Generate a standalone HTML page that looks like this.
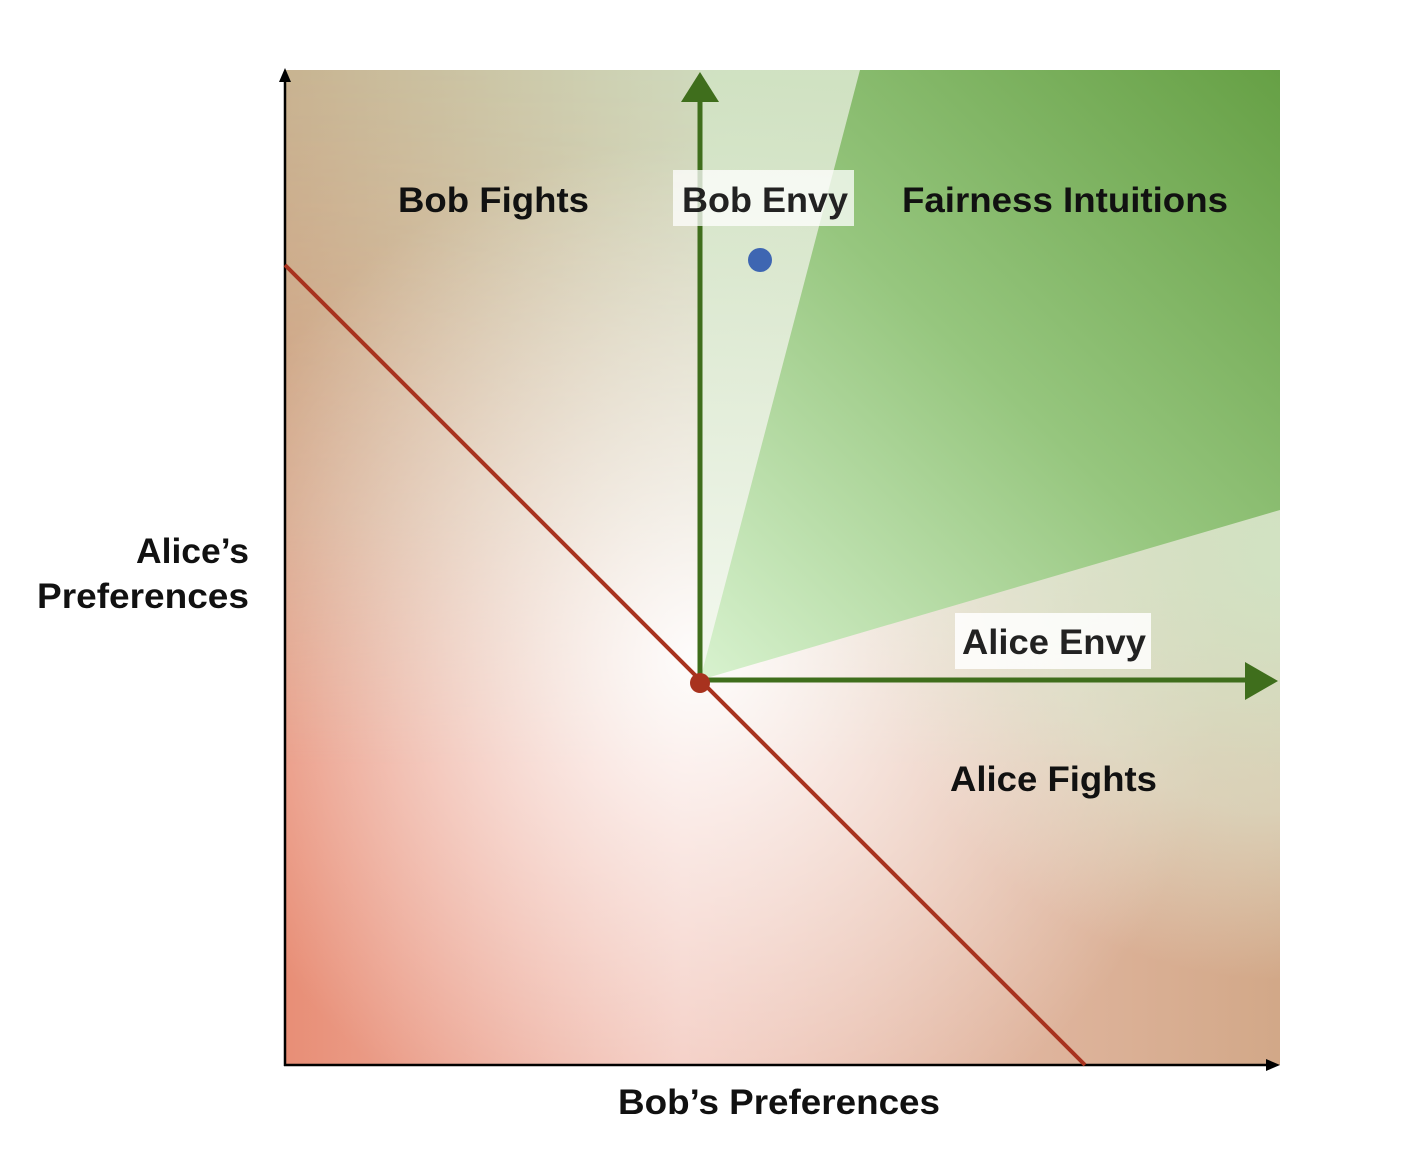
<!DOCTYPE html>
<html><head><meta charset="utf-8"><style>
html,body{margin:0;padding:0;background:#fff;}
svg{display:block;font-family:"Liberation Sans",Arial,sans-serif;font-weight:bold;}
</style></head><body>
<svg width="1412" height="1160" viewBox="0 0 1412 1160" xmlns="http://www.w3.org/2000/svg">
<defs>
<linearGradient id="top" x1="0" y1="0" x2="1" y2="0">
<stop offset="0" stop-color="#c8b391"/><stop offset="0.45" stop-color="#cfdcbf"/><stop offset="1" stop-color="#b9d6a8"/>
</linearGradient>
<linearGradient id="bot" x1="0" y1="0" x2="1" y2="0">
<stop offset="0" stop-color="#e88e76"/><stop offset="0.4" stop-color="#f2c6bb"/><stop offset="1" stop-color="#d2a888"/>
</linearGradient>
<linearGradient id="vm" x1="0" y1="0" x2="0" y2="1">
<stop offset="0" stop-color="#fff"/><stop offset="0.45" stop-color="#fff" stop-opacity="0.6"/><stop offset="0.7" stop-color="#fff" stop-opacity="0"/>
</linearGradient>
<mask id="m"><rect x="285" y="70" width="995" height="995" fill="url(#vm)"/></mask>
<radialGradient id="wh" cx="700" cy="660" r="520" gradientUnits="userSpaceOnUse">
<stop offset="0" stop-color="#fff" stop-opacity="0.95"/><stop offset="0.35" stop-color="#fff" stop-opacity="0.6"/><stop offset="1" stop-color="#fff" stop-opacity="0"/>
</radialGradient>
<radialGradient id="gr" cx="1280" cy="560" r="420" gradientUnits="userSpaceOnUse">
<stop offset="0" stop-color="#d2e4c4" stop-opacity="0.95"/><stop offset="0.6" stop-color="#dfeAd4" stop-opacity="0.6"/><stop offset="1" stop-color="#e8eede" stop-opacity="0"/>
</radialGradient>
<linearGradient id="lt" x1="0" y1="70" x2="0" y2="680" gradientUnits="userSpaceOnUse">
<stop offset="0" stop-color="#d0e2c2" stop-opacity="0.9"/><stop offset="1" stop-color="#f2f8ee" stop-opacity="0.9"/>
</linearGradient>
<linearGradient id="gw" x1="700" y1="680" x2="1280" y2="70" gradientUnits="userSpaceOnUse">
<stop offset="0" stop-color="#d8f2cf"/><stop offset="0.5" stop-color="#96c67e"/><stop offset="1" stop-color="#66a045"/>
</linearGradient>
</defs>
<rect x="285" y="70" width="995" height="995" fill="url(#bot)"/>
<rect x="285" y="70" width="995" height="995" fill="url(#top)" mask="url(#m)"/>
<rect x="285" y="70" width="995" height="995" fill="url(#wh)"/>
<rect x="700" y="70" width="580" height="995" fill="url(#gr)"/>
<polygon points="700,680 700,70 860,70" fill="url(#lt)"/>
<polygon points="700,680 860,70 1280,70 1280,510" fill="url(#gw)"/>
<line x1="285" y1="76" x2="285" y2="1066" stroke="#000" stroke-width="2.5"/>
<polygon points="285,68 279,82 291,82" fill="#000"/>
<line x1="284" y1="1065" x2="1270" y2="1065" stroke="#000" stroke-width="2.5"/>
<polygon points="1280,1065 1266,1059 1266,1071" fill="#000"/>
<line x1="285" y1="265" x2="1085" y2="1065" stroke="#a8321e" stroke-width="4"/>
<line x1="700" y1="95" x2="700" y2="682" stroke="#3f6e1c" stroke-width="5"/>
<polygon points="700,72 681,102 719,102" fill="#3f6e1c"/>
<line x1="698" y1="680" x2="1252" y2="680" stroke="#3f6e1c" stroke-width="5"/>
<polygon points="1278,681 1245,662 1245,700" fill="#3f6e1c"/>
<circle cx="700" cy="683" r="10" fill="#a8321e"/>
<circle cx="760" cy="260" r="12" fill="#3e66b2"/>
<rect x="673" y="170" width="181" height="56" fill="#fff" fill-opacity="0.75"/>
<rect x="955" y="613" width="196" height="56" fill="#fff" fill-opacity="0.85"/>
<g font-size="35" fill="#111" lengthAdjust="spacingAndGlyphs">
<text x="398" y="212" textLength="191" lengthAdjust="spacingAndGlyphs">Bob Fights</text>
<text x="682" y="212" fill="#222" textLength="166" lengthAdjust="spacingAndGlyphs">Bob Envy</text>
<text x="902" y="212" textLength="326" lengthAdjust="spacingAndGlyphs">Fairness Intuitions</text>
<text x="962" y="654" fill="#222" textLength="184" lengthAdjust="spacingAndGlyphs">Alice Envy</text>
<text x="950" y="791" textLength="207" lengthAdjust="spacingAndGlyphs">Alice Fights</text>
<text x="136" y="563" textLength="113" lengthAdjust="spacingAndGlyphs">Alice’s</text>
<text x="37" y="608" textLength="212" lengthAdjust="spacingAndGlyphs">Preferences</text>
<text x="618" y="1114" textLength="322" lengthAdjust="spacingAndGlyphs">Bob’s Preferences</text>
</g>
</svg>
</body></html>
